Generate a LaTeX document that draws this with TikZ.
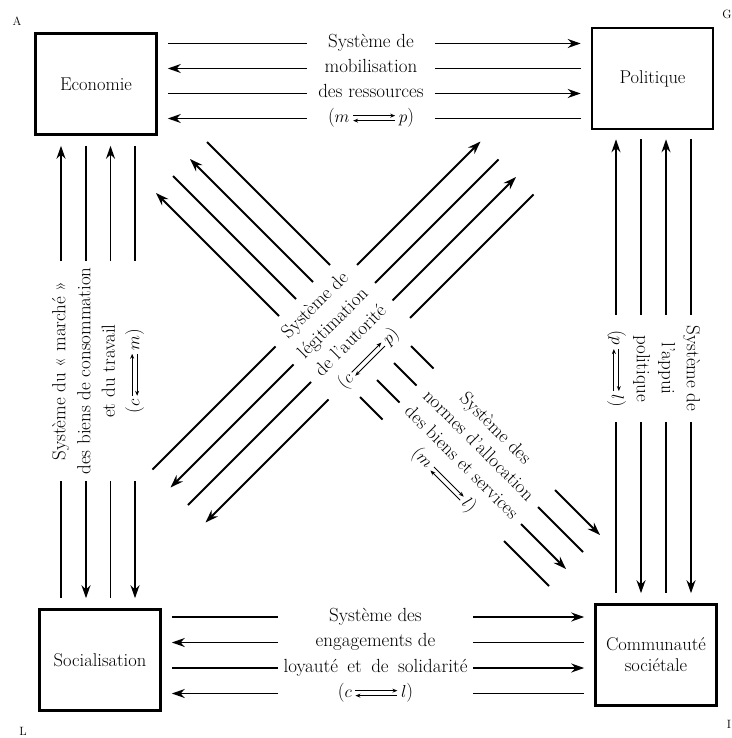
\documentclass[tikz,border=0pt]{standalone}
\usepackage{amsmath,amssymb}
\usepackage{tikz}
\usetikzlibrary{arrows.meta, calc}

\tikzset{
  boite/.style={draw, line width=2.6pt, minimum width=121pt, minimum height=101pt, align=center, inner sep=2pt,
    font=\fontsize{18.5}{21}\selectfont},
  texte/.style={inner sep=0pt, text height=8.5pt, text depth=0pt, font=\fontsize{19}{22}\selectfont},
  fl/.style={line width=1.8pt},
  fldeb/.style={fl, {Stealth[length=13pt,width=9pt]}-},
  flfin/.style={fl, -{Stealth[length=13pt,width=9pt]}},
  coin/.style={font=\fontsize{12}{14}\selectfont}
}

\newcommand{\ech}{\,\tikz[baseline=-4.6pt]{%
  \draw[line width=0.9pt,-{Stealth[length=5pt,width=4pt]}] (0pt,2.5pt) -- (42pt,2.5pt);
  \draw[line width=0.9pt,{Stealth[length=5pt,width=4pt]}-] (0pt,-2.5pt) -- (42pt,-2.5pt);}\,}

\begin{document}
\begin{tikzpicture}[x=1pt, y=-1pt]
    \useasboundingbox (0,0) rectangle (731,738);

    \node[boite] (eco) at (96,84) {Economie};
    \node[boite] (pol) at (652.5,78.5) {Politique};
    \node[boite] (soc) at (100,660) {Socialisation};
    \node[boite] (com) at (656,655) {Communauté\\sociétale};

    \node[coin] (cA) at (17,21) {A};
    \node[coin] (cG) at (727,14) {G};
    \node[coin] (cL) at (23,731) {L};
    \node[coin] (cI) at (729,724) {I};

    \foreach \k/\y/\t/\sg/\sd in {1/43.5/Système de/fl/flfin, 2/68.5/mobilisation/fldeb/fl,
        3/93.5/des ressources/fl/flfin, 4/118.5/($m$\ech$p$)/fldeb/fl} {
        \node[texte] (h\k) at (371,\y) {\t};
        \draw[\sg] ($(eco.east |- h\k)+(10,0)$) -- ($(h\k)+(-64,0)$);
        \draw[\sd] ($(h\k)+(64,0)$) -- ($(pol.west |- h\k)+(-10,0)$);
    }

    \foreach \k/\y/\t/\sg/\sd in {1/617/Système des/fl/flfin, 2/642.5/engagements de/fldeb/fl,
        3/668/\makebox[184pt][s]{loyauté et de solidarité}/fl/flfin, 4/693.5/($c$\ech$l$)/fldeb/fl} {
        \node[texte] (b\k) at (375.5,\y) {\t};
        \draw[\sg] ($(soc.east |- b\k)+(10,0)$) -- ($(b\k)+(-97.5,0)$);
        \draw[\sd] ($(b\k)+(97.5,0)$) -- ($(com.west |- b\k)+(-10,0)$);
    }

    \foreach \k/\x/\t/\sh/\sb in {1/61/Système du «~marché~»/fldeb/fl, 2/86/des biens de consommation/fl/flfin,
        3/110.5/et du travail/fldeb/fl, 4/135/($c$\ech$m$)/fl/flfin} {
        \node[texte, rotate=90] (g\k) at (\x,371) {\t};
        \draw[\sh] ($(eco.south -| g\k)+(0,10)$) -- ($(g\k)+(0,-110)$);
        \draw[\sb] ($(g\k)+(0,110)$) -- ($(soc.north -| g\k)+(0,-10)$);
    }

    \foreach \k/\x/\t/\sh/\sb in {1/616/($p$\ech$l$)/fldeb/fl, 2/641/politique/fl/flfin,
        3/666/l'appui/fldeb/fl, 4/691/Système de/fl/flfin} {
        \node[texte, rotate=-90] (d\k) at (\x,368.5) {\t};
        \draw[\sh] ($(pol.south -| d\k)+(0,9)$) -- ($(d\k)+(0,-53.5)$);
        \draw[\sb] ($(d\k)+(0,53.5)$) -- ($(com.north -| d\k)+(0,-10)$);
    }

    \foreach \k/\p/\t/\sa/\sb in {1/622/Système de/fl/flfin, 2/658/légitimation/fldeb/fl,
        3/693/de l'autorité/fl/flfin, 4/728/($c$\ech$p$)/fldeb/fl} {
        \node[texte, rotate=45] (lg\k) at ({(\p+10)/2},{(\p-10)/2}) {\t};
        \draw[\sa] ($(lg\k)+(-163.5,163.5)$) -- ($(lg\k)+(-40.5,40.5)$);
        \draw[\sb] ($(lg\k)+(41,-41)$) -- ($(lg\k)+(164.5,-164.5)$);
    }

    \foreach \k/\c/\t/\sa/\sb in {1/37/($m$\ech$l$)/fldeb/fl, 2/3/des biens et services/fl/flfin,
        3/-31/normes d'allocation/fldeb/fl, 4/-65/Système des/fl/flfin} {
        \node[texte, rotate=-45] (ai\k) at ({(924-(\c))/2},{(924+(\c))/2}) {\t};
        \draw[\sa] ($(ai\k)+(-287.5,-287.5)$) -- ($(ai\k)+(-164.5,-164.5)$);
        \draw[fl] ($(ai\k)+(-83.5,-83.5)$) -- ($(ai\k)+(-61,-61)$);
        \draw[\sb] ($(ai\k)+(60.5,60.5)$) -- ($(ai\k)+(105.5,105.5)$);
    }
\end{tikzpicture}
\end{document}
